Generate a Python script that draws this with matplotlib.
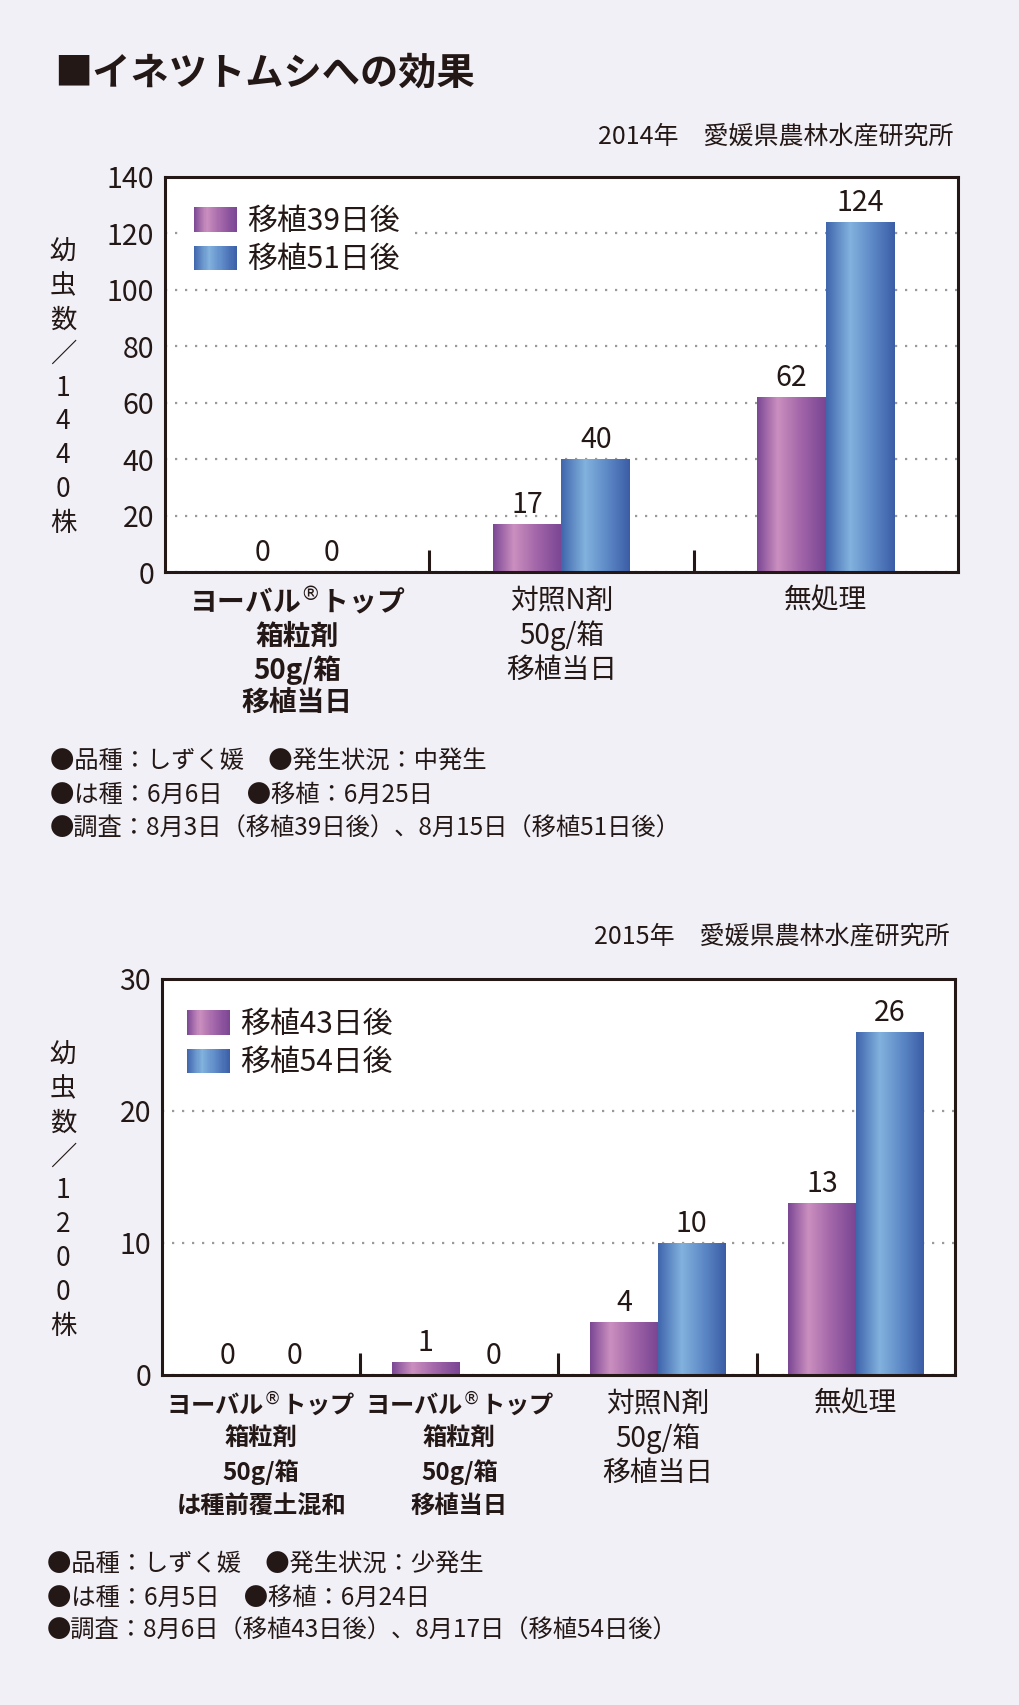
import numpy as np
import matplotlib
matplotlib.use("Agg")
import matplotlib.pyplot as plt
from matplotlib.colors import LinearSegmentedColormap
from matplotlib.legend_handler import HandlerBase
from matplotlib.patches import Rectangle

plt.rcParams['font.family'] = ['Noto Sans CJK JP', 'DejaVu Sans']
plt.rcParams['mathtext.fontset'] = 'dejavusans'

INK = '#231815'
BG = '#f1f0f7'

# ---- data ----
title = '■イネツトムシへの効果'

src_2014 = '2014年　愛媛県農林水産研究所'
cats_2014 = ['ヨーバル$^{\\mathrm{®}}$トップ\n箱粒剤\n50g/箱\n移植当日',
             '対照N剤\n50g/箱\n移植当日',
             '無処理']
bold_2014 = [True, False, False]
series_2014 = ['移植39日後', '移植51日後']
d39 = [0, 17, 62]
d51 = [0, 40, 124]
ylabel_2014 = '幼虫数／1440株'
notes_2014 = ['●品種：しずく媛　●発生状況：中発生',
              '●は種：6月6日　●移植：6月25日',
              '●調査：8月3日（移植39日後）、8月15日（移植51日後）']

src_2015 = '2015年　愛媛県農林水産研究所'
cats_2015 = ['ヨーバル$^{\\mathrm{®}}$トップ\n箱粒剤\n50g/箱\nは種前覆土混和',
             'ヨーバル$^{\\mathrm{®}}$トップ\n箱粒剤\n50g/箱\n移植当日',
             '対照N剤\n50g/箱\n移植当日',
             '無処理']
bold_2015 = [True, True, False, False]
series_2015 = ['移植43日後', '移植54日後']
d43 = [0, 1, 4, 13]
d54 = [0, 0, 10, 26]
ylabel_2015 = '幼虫数／1200株'
notes_2015 = ['●品種：しずく媛　●発生状況：少発生',
              '●は種：6月5日　●移植：6月24日',
              '●調査：8月6日（移植43日後）、8月17日（移植54日後）']

purple = LinearSegmentedColormap.from_list(
    'pur', [(0, '#7b4794'), (0.3, '#cb8fbf'), (0.65, '#a064a8'), (1, '#7a4593')])
blue = LinearSegmentedColormap.from_list(
    'blu', [(0, '#3f65ac'), (0.35, '#82b2de'), (0.7, '#5a85c4'), (1, '#3b5da6')])


class GradHandler(HandlerBase):
    def __init__(self, cmap):
        super().__init__()
        self.cmap = cmap

    def create_artists(self, legend, orig_handle, xdescent, ydescent,
                       width, height, fontsize, trans):
        n = 40
        arts = []
        for i in range(n):
            r = Rectangle((-xdescent + width * i / n, -ydescent), width / n * 1.1,
                          height, facecolor=self.cmap((i + 0.5) / n),
                          edgecolor='none', transform=trans)
            arts.append(r)
        return arts


def grad_bars(ax, bars, cmap):
    g = np.linspace(0, 1, 256)[None, :]
    for p in bars:
        x, y = p.get_x(), p.get_y()
        w, h = p.get_width(), p.get_height()
        if h <= 0:
            continue
        im = ax.imshow(g, cmap=cmap, extent=[x, x + w, y, y + h],
                       aspect='auto', zorder=2.5, interpolation='bilinear')
        im.set_clip_path(p)


def draw_chart(ax, cats, bold, names, v1, v2, ymax, ystep, width,
               legend_anchor, bold_size):
    n = len(cats)
    x = np.arange(n)
    b1 = ax.bar(x - width / 2, v1, width, color='#9a5ea6', zorder=2)
    b2 = ax.bar(x + width / 2, v2, width, color='#5a86c6', zorder=2)
    grad_bars(ax, b1, purple)
    grad_bars(ax, b2, blue)
    for bars, vals in ((b1, v1), (b2, v2)):
        for p, v in zip(bars, vals):
            ax.annotate(str(v), (p.get_x() + p.get_width() / 2, v),
                        xytext=(0, 3), textcoords='offset points',
                        ha='center', va='bottom', fontsize=20.5, color=INK)
    ax.set_xlim(-0.5, n - 0.5)
    ax.set_ylim(0, ymax)
    ax.set_yticks(np.arange(0, ymax + 1, ystep))
    ax.tick_params(axis='y', length=0, pad=8, labelsize=20.5, labelcolor=INK)
    ax.set_xticks(x)
    ax.set_xticklabels(cats)
    ax.tick_params(axis='x', which='major', length=0, pad=10, labelsize=20,
                   labelcolor=INK)
    for lab, b in zip(ax.get_xticklabels(), bold):
        if b:
            lab.set_fontweight('bold')
            lab.set_fontsize(bold_size)
            lab.set_linespacing(1.19 * 20 / bold_size
                                * (1.06 if bold_size < 20 else 1.0))
        else:
            lab.set_linespacing(1.17)
    ax.set_xticks(np.arange(0.5, n - 1), minor=True)
    ax.tick_params(axis='x', which='minor', direction='in', length=16,
                   width=2.2, color=INK)
    ax.set_axisbelow(True)
    ax.yaxis.grid(True, color='#9a9a9a', linestyle=(0, (1, 3.5)), linewidth=1.6)
    for s in ax.spines.values():
        s.set_linewidth(2.2)
        s.set_color(INK)
    ax.set_facecolor('white')
    leg = ax.legend([b1, b2], names, loc='upper left',
                    bbox_to_anchor=legend_anchor, borderaxespad=0,
                    handler_map={b1: GradHandler(purple), b2: GradHandler(blue)},
                    fontsize=21.5, frameon=True, fancybox=False, framealpha=1,
                    edgecolor='none', facecolor='white', handlelength=1.45,
                    handleheight=0.9, handletextpad=0.35, labelspacing=0.25,
                    borderpad=0.4)
    for t in leg.get_texts():
        t.set_color(INK)
    leg.set_zorder(5)


fig = plt.figure(figsize=(10.2, 17.05), dpi=100, facecolor=BG)

fig.text(54 / 1020, 1 - 73 / 1705, title, fontsize=27.5, fontweight='bold',
         color=INK, ha='left', va='center')

ax1 = fig.add_axes([165 / 1020, 1 - 572 / 1705, 793 / 1020, 395 / 1705])
draw_chart(ax1, cats_2014, bold_2014, series_2014, d39, d51, 140, 20, 0.26,
           (0.021, 0.957), 20)
fig.text(954 / 1020, 1 - 136 / 1705, src_2014, fontsize=18, color=INK,
         ha='right', va='center')
fig.text(63 / 1020, 1 - 388 / 1705, '\n'.join(ylabel_2014), fontsize=19,
         color=INK, ha='center', va='center', linespacing=1.33)
for i, line in enumerate(notes_2014):
    fig.text(50 / 1020, 1 - (761 + 34 * i) / 1705, line, fontsize=17.5,
             color=INK, ha='left', va='center')

ax2 = fig.add_axes([162 / 1020, 1 - 1375 / 1705, 793 / 1020, 396 / 1705])
draw_chart(ax2, cats_2015, bold_2015, series_2015, d43, d54, 30, 10, 0.34,
           (0.016, 0.955), 17.5)
fig.text(950 / 1020, 1 - 937 / 1705, src_2015, fontsize=18, color=INK,
         ha='right', va='center')
fig.text(63 / 1020, 1 - 1191 / 1705, '\n'.join(ylabel_2015), fontsize=19,
         color=INK, ha='center', va='center', linespacing=1.33)
for i, line in enumerate(notes_2015):
    fig.text(47 / 1020, 1 - (1564 + 33.5 * i) / 1705, line, fontsize=17.5,
             color=INK, ha='left', va='center')

fig.savefig('out.png', dpi=100, facecolor=BG)
